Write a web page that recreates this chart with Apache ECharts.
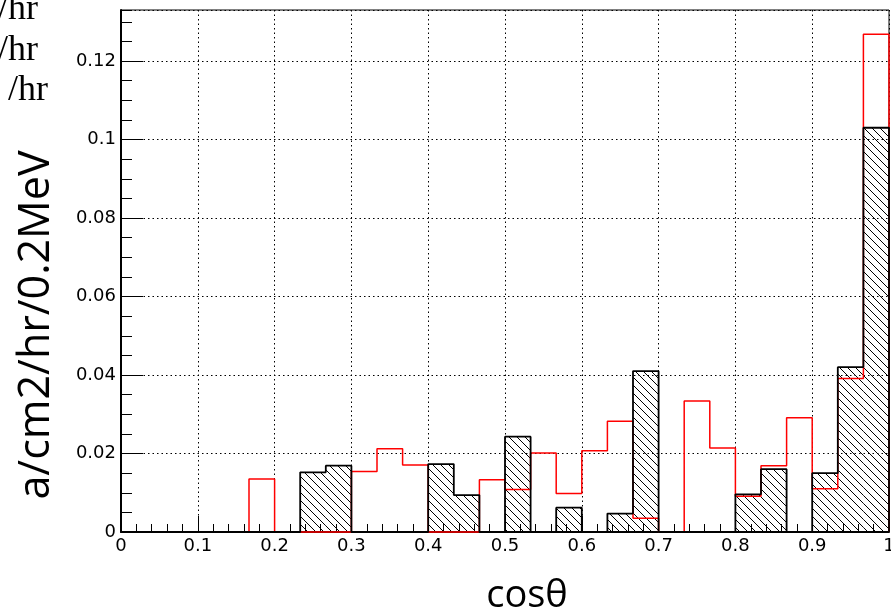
<!DOCTYPE html>
<html>
<head>
<meta charset="utf-8">
<script src="https://cdn.jsdelivr.net/npm/echarts@6/dist/echarts.min.js"></script>
<style>
  html, body { margin: 0; padding: 0; background: #fff; }
  #chart { width: 891px; height: 614px; }
</style>
</head>
<body>
<div id="chart"></div>
<script>
// Histogram binning on cos(theta): 30 equal bins over [0, 1]
const binLow = 0;
const binHigh = 1;
const binCount = 30;

// Hatched (black) histogram contents per bin
const hatchedValues = [
  0, 0, 0, 0, 0,
  0, 0, 0.0152, 0.0169, 0,
  0, 0, 0.0173, 0.0094, 0,
  0.0243, 0, 0.0062, 0, 0.0047,
  0.0410, 0, 0, 0, 0.0096,
  0.0160, 0, 0.0150, 0.0420, 0.1030
];

// Red outline histogram contents per bin
const redValues = [
  0, 0, 0, 0, 0,
  0.0135, 0, 0, 0, 0.0154,
  0.0212, 0.0171, 0, 0, 0.0133,
  0.0108, 0.0201, 0.0098, 0.0207, 0.0282,
  0.0035, 0, 0.0334, 0.0214, 0.0091,
  0.0169, 0.0291, 0.0110, 0.0391, 0.1268
];

// Axis ranges and tick spacing
const xRange = [0, 1];
const xMajorStep = 0.1;
const yRange = [0, 0.133];
const yMajorStep = 0.02;
const yMinorStep = 0.005;

// Partially visible legend lines in the top-left corner
const legendLines = ['/hr', '/hr', '/hr'];

const binWidth = (binHigh - binLow) / binCount;

function binEdge(i) {
  return binLow + i * binWidth;
}

// [low edge, high edge, content] for each bin
function binTable(values) {
  return values.map((v, i) => [binEdge(i), binEdge(i + 1), v]);
}

// Step outline points for a histogram drawn with step:'end'
function stepOutline(values) {
  const pts = [[binLow, 0]];
  values.forEach((v, i) => pts.push([binEdge(i), v]));
  pts.push([binHigh, values[values.length - 1]]);
  pts.push([binHigh, 0]);
  return pts;
}

// Diagonal "\" hatch used to fill the black histogram
function makeHatch() {
  const s = 8;
  const c = document.createElement('canvas');
  c.width = s; c.height = s;
  const g = c.getContext('2d');
  g.strokeStyle = '#000';
  g.lineWidth = 1;
  g.beginPath();
  g.moveTo(-1, -1); g.lineTo(s + 1, s + 1);
  g.moveTo(-1, s - 1); g.lineTo(1, s + 1);
  g.moveTo(s - 1, -1); g.lineTo(s + 1, 1);
  g.stroke();
  return c;
}
const hatch = makeHatch();

const chart = echarts.init(document.getElementById('chart'), null, { renderer: 'canvas' });

const tickFont = 'DejaVu Sans';

chart.setOption({
  animation: false,
  backgroundColor: '#fff',
  grid: {
    left: 121, right: 2, top: 10, bottom: 82,
    containLabel: false, outerBoundsMode: 'none',
    show: true, borderColor: '#000', borderWidth: 1, backgroundColor: 'transparent'
  },
  xAxis: {
    type: 'value',
    min: xRange[0], max: xRange[1], interval: xMajorStep,
    axisLine: { show: true, onZero: false, lineStyle: { color: '#000', width: 2 } },
    axisTick: { show: true, inside: true, length: 16, lineStyle: { color: '#000', width: 1 } },
    minorTick: { show: true, splitNumber: 5, length: 8, lineStyle: { color: '#000', width: 1 } },
    axisLabel: { color: '#000', fontFamily: tickFont, fontSize: 18, margin: 5, hideOverlap: false },
    splitLine: { show: true, lineStyle: { color: '#000', width: 1, type: [1.5, 3] } }
  },
  yAxis: [
    {
      type: 'value',
      min: yRange[0], max: yRange[1], interval: yMajorStep,
      axisLine: { show: true, onZero: false, lineStyle: { color: '#000', width: 2 } },
      axisTick: { show: true, inside: true, length: 22, lineStyle: { color: '#000', width: 1 } },
      minorTick: { show: false },
      axisLabel: { color: '#000', fontFamily: tickFont, fontSize: 18, margin: 5, showMaxLabel: false, hideOverlap: false },
      splitLine: { show: true, lineStyle: { color: '#000', width: 1, type: [1.5, 3] } }
    },
    {
      // finer ticks on the same scale
      type: 'value', position: 'left', offset: 0,
      min: yRange[0], max: yRange[1], interval: yMinorStep,
      axisLine: { show: false },
      axisTick: { show: true, inside: true, length: 11, lineStyle: { color: '#000', width: 1 } },
      axisLabel: { show: false },
      splitLine: { show: false }
    }
  ],
  series: [
    {
      type: 'custom',
      name: 'hatched',
      z: 2,
      clip: true,
      data: binTable(hatchedValues),
      renderItem: function (params, api) {
        const top = api.coord([api.value(0), api.value(2)]);
        const bottom = api.coord([api.value(1), 0]);
        return {
          type: 'rect',
          shape: { x: top[0], y: top[1], width: bottom[0] - top[0], height: bottom[1] - top[1] },
          style: { fill: { image: hatch, repeat: 'repeat' }, stroke: null }
        };
      }
    },
    {
      type: 'line',
      name: 'red',
      z: 3,
      step: 'end',
      showSymbol: false,
      clip: false,
      data: stepOutline(redValues),
      lineStyle: { color: '#ff0000', width: 1.5 }
    },
    {
      type: 'line',
      name: 'black',
      z: 4,
      step: 'end',
      showSymbol: false,
      clip: false,
      data: stepOutline(hatchedValues),
      lineStyle: { color: '#000', width: 1.8 }
    }
  ],
  graphic: [
    {
      type: 'text', x: 37, y: 325, rotation: Math.PI / 2,
      style: {
        text: 'a/cm2/hr/0.2MeV', font: '43px "Open Sans"', fill: '#000',
        align: 'center', verticalAlign: 'middle', textAlign: 'center', textVerticalAlign: 'middle'
      }
    },
    {
      type: 'text', x: 527, y: 596,
      style: {
        text: 'cosθ', font: '38px "Open Sans"', fill: '#000',
        align: 'center', verticalAlign: 'middle', textAlign: 'center', textVerticalAlign: 'middle'
      }
    },
    ...legendLines.map((t, i) => ({
      type: 'text', x: [38, 38, 48][i], y: [10, 51, 91][i],
      style: {
        text: t, font: '36px "Liberation Serif"', fill: '#000',
        align: 'right', verticalAlign: 'middle', textAlign: 'right', textVerticalAlign: 'middle'
      }
    }))
  ]
});
</script>
</body>
</html>
